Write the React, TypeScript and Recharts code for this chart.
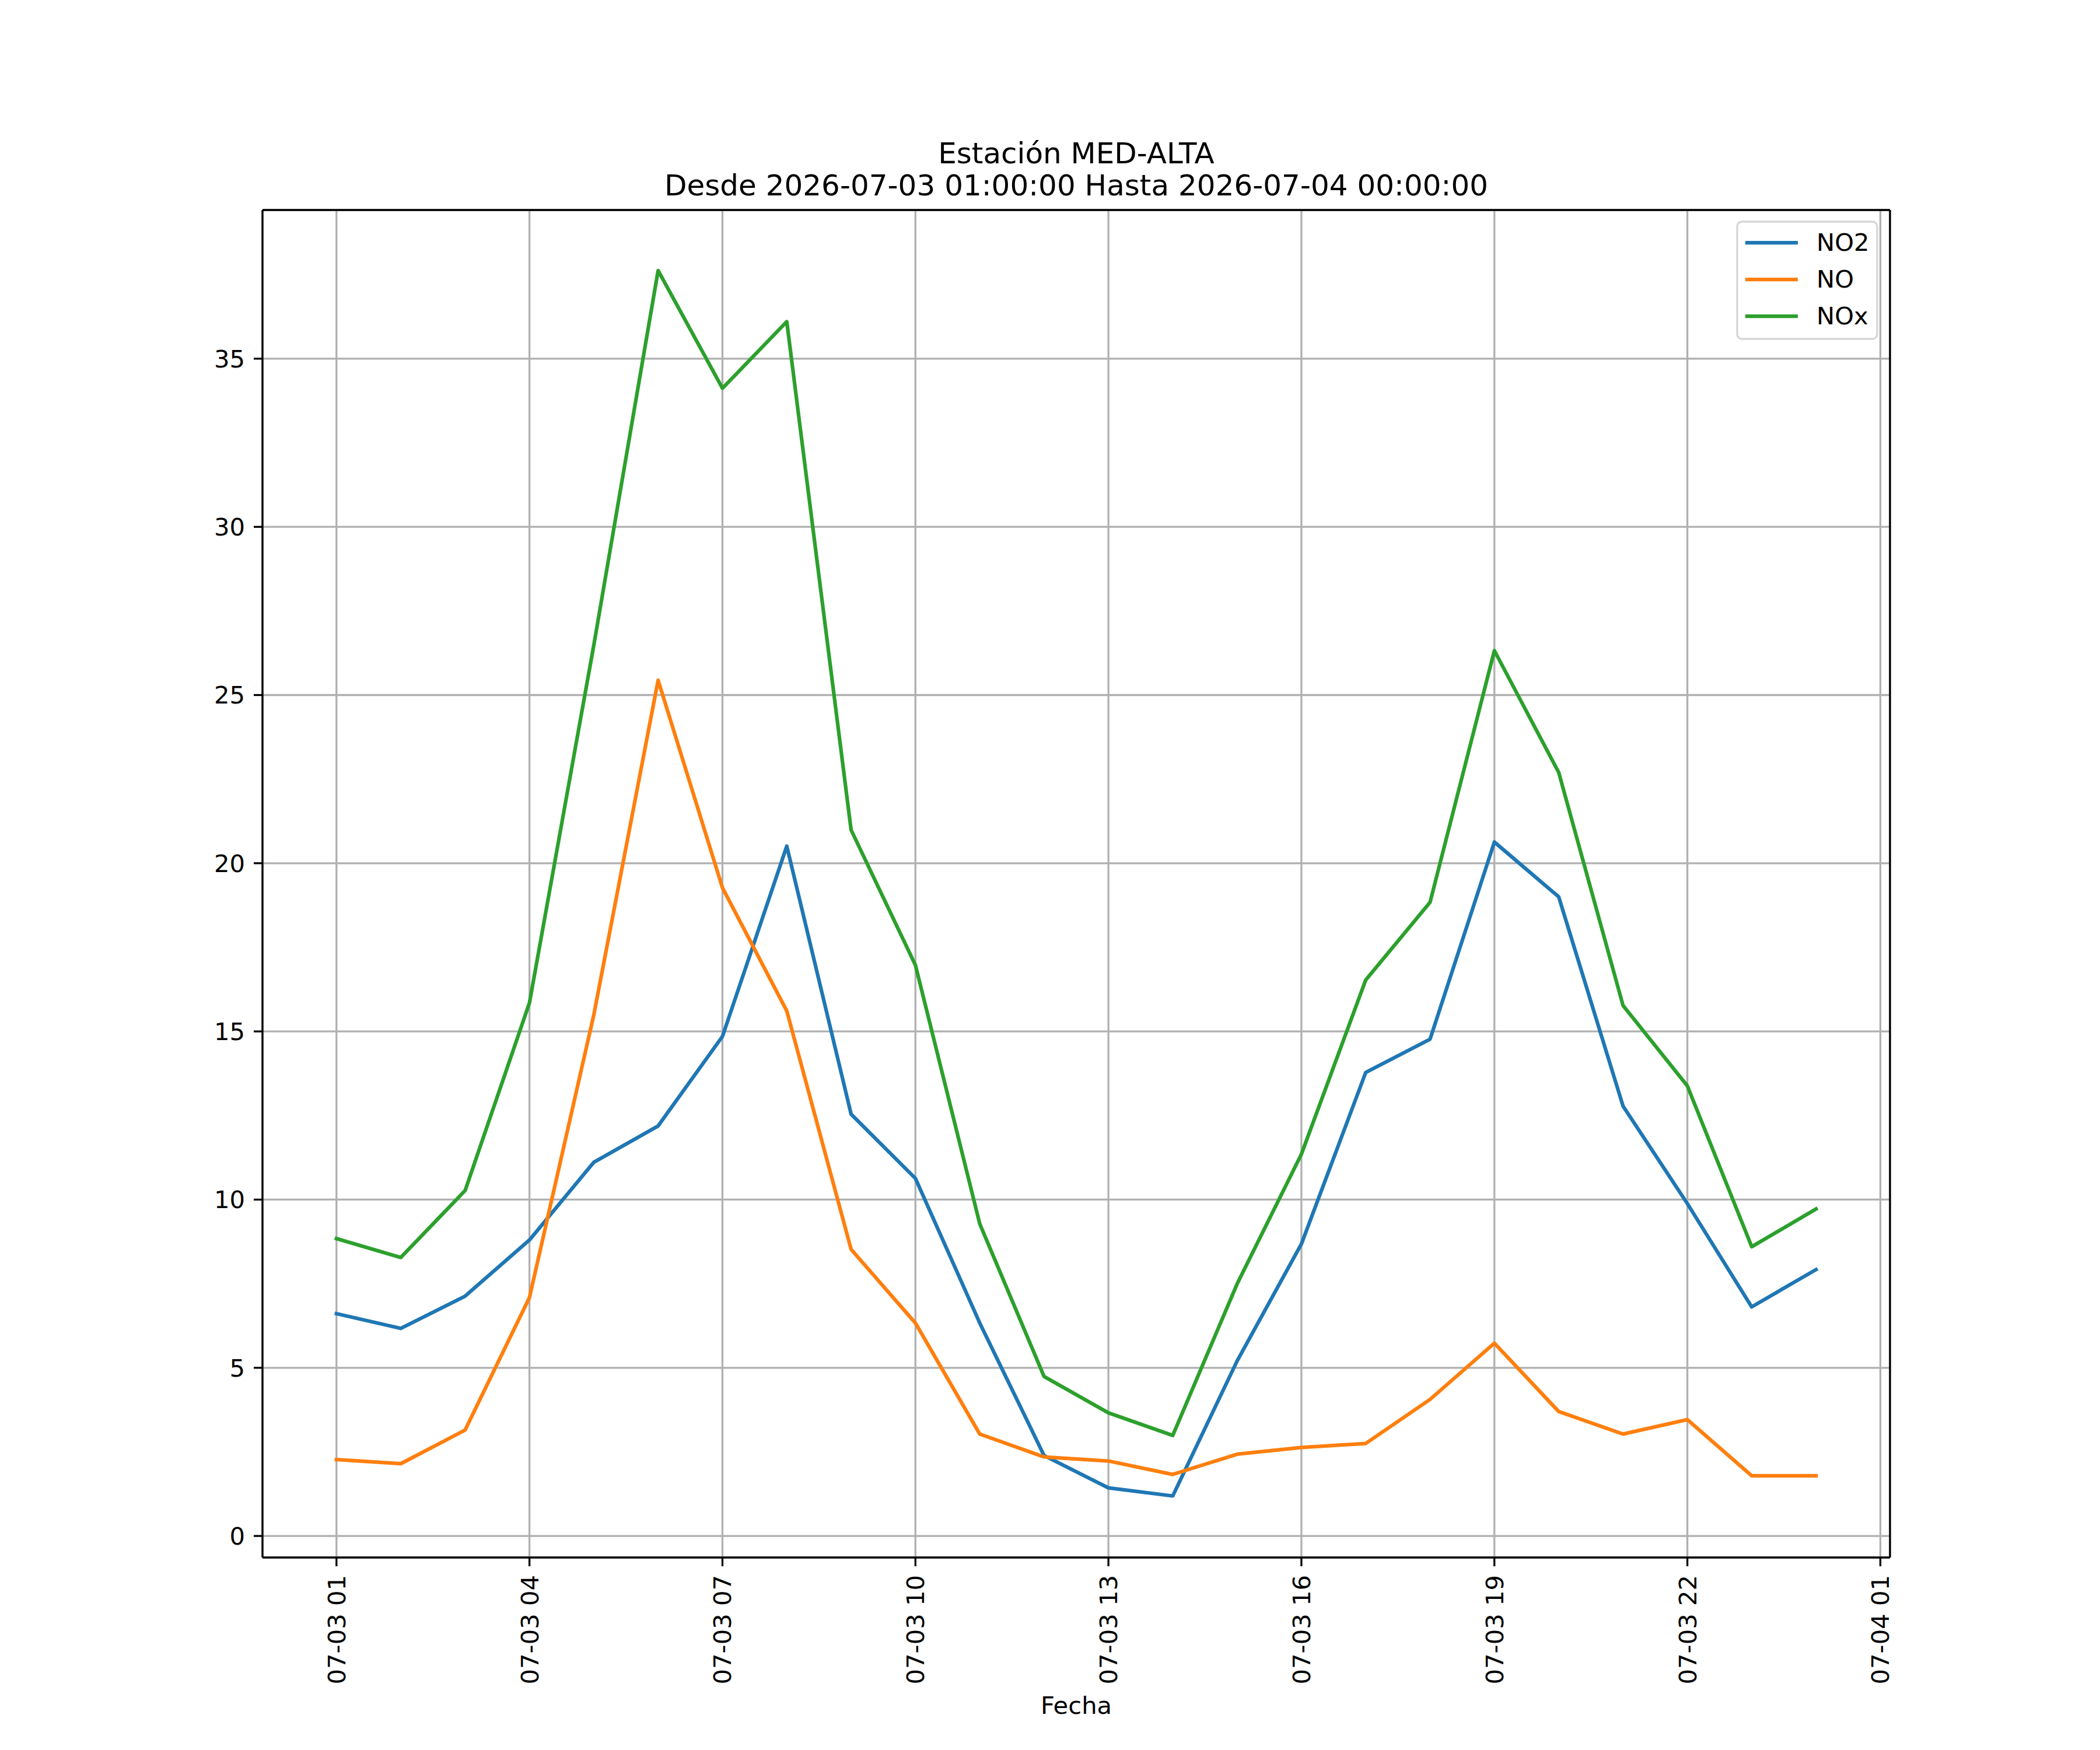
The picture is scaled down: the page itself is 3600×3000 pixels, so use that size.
import React from "react";
import { CartesianGrid, Line, LineChart, ReferenceLine, XAxis, YAxis } from "recharts";

// Hours after 2026-07-03 01:00 (0 = 01:00, 23 = 00:00 next day)
const HOURS = [0, 1, 2, 3, 4, 5, 6, 7, 8, 9, 10, 11, 12, 13, 14, 15, 16, 17, 18, 19, 20, 21, 22, 23];

const NO2 = [
  6.61, 6.17, 7.13, 8.8, 11.11, 12.19, 14.85, 20.51, 12.54, 10.63, 6.33, 2.39,
  1.43, 1.19, 5.2, 8.68, 13.78, 14.77, 20.63, 19.0, 12.78, 9.88, 6.81, 7.92,
];
const NO = [
  2.27, 2.15, 3.15, 7.09, 15.49, 25.44, 19.27, 15.61, 8.52, 6.33, 3.03, 2.35,
  2.23, 1.83, 2.43, 2.63, 2.75, 4.06, 5.73, 3.7, 3.03, 3.46, 1.79, 1.79,
];
const NOX = [
  8.84, 8.28, 10.27, 15.85, 26.48, 37.62, 34.12, 36.1, 20.99, 16.97, 9.28, 4.74,
  3.66, 2.99, 7.49, 11.35, 16.53, 18.84, 26.32, 22.7, 15.77, 13.38, 8.6, 9.72,
];

const X_TICKS = [0, 3, 6, 9, 12, 15, 18, 21, 24];
const X_TICK_LABELS = [
  "07-03 01", "07-03 04", "07-03 07", "07-03 10", "07-03 13",
  "07-03 16", "07-03 19", "07-03 22", "07-04 01",
];
const Y_TICKS = [0, 5, 10, 15, 20, 25, 30, 35];

const SERIES = [
  { key: "NO2", name: "NO2", color: "#1f77b4" },
  { key: "NO", name: "NO", color: "#ff7f0e" },
  { key: "NOx", name: "NOx", color: "#2ca02c" },
];

const TITLE = ["Estación MED-ALTA", "Desde 2026-07-03 01:00:00 Hasta 2026-07-04 00:00:00"];

const X_DOMAIN: [number, number] = [-1.15, 24.15];
const Y_DOMAIN: [number, number] = [-0.64, 39.42];

const FONT = "DejaVu Sans";
const TICK_FS = 41.7;
const LW = 3.3;

const rows = HOURS.map((h, i) => ({ h, NO2: NO2[i], NO: NO[i], NOx: NOX[i] }));

function XTick({ x, y, payload }: { x?: number; y?: number; payload?: { value: number } }) {
  const idx = X_TICKS.indexOf(payload?.value ?? -1);
  const label = X_TICK_LABELS[idx] ?? "";
  return (
    <text
      x={x}
      y={y}
      transform={`rotate(-90, ${x}, ${y})`}
      textAnchor="end"
      dy="0.36em"
      fontSize={TICK_FS}
      fontFamily={FONT}
      fill="#000"
    >
      {label}
    </text>
  );
}

export default function App() {
  return (
    <div style={{ position: "absolute", left: 0, top: 0, width: 3600, height: 3000, background: "#fff" }}>
      <LineChart
        width={3600}
        height={3000}
        data={rows}
        margin={{ top: 360, right: 360, bottom: 0, left: 0 }}
      >
        <CartesianGrid stroke="#b0b0b0" strokeWidth={LW} />
        <XAxis
          dataKey="h"
          type="number"
          domain={X_DOMAIN}
          ticks={X_TICKS}
          allowDataOverflow
          height={330}
          tickSize={15}
          tickMargin={15}
          tickLine={{ stroke: "#000", strokeWidth: LW }}
          axisLine={{ stroke: "#000", strokeWidth: LW }}
          tick={<XTick />}
          interval={0}
        />
        <YAxis
          type="number"
          domain={Y_DOMAIN}
          ticks={Y_TICKS}
          allowDataOverflow
          width={450}
          tickSize={15}
          tickMargin={15}
          tickLine={{ stroke: "#000", strokeWidth: LW }}
          axisLine={{ stroke: "#000", strokeWidth: LW }}
          tick={{ fontSize: TICK_FS, fontFamily: FONT, fill: "#000" }}
          interval={0}
        />
        {SERIES.map((s) => (
          <Line
            key={s.key}
            type="linear"
            dataKey={s.key}
            name={s.name}
            stroke={s.color}
            strokeWidth={6.25}
            strokeLinejoin="round"
            strokeLinecap="square"
            dot={false}
            activeDot={false}
            isAnimationActive={false}
          />
        ))}
        <ReferenceLine y={Y_DOMAIN[1]} stroke="#000" strokeWidth={LW} ifOverflow="visible" />
        <ReferenceLine x={X_DOMAIN[1]} stroke="#000" strokeWidth={LW} ifOverflow="visible" />
      </LineChart>

      {/* title, x label and legend */}
      <svg
        width={3600}
        height={3000}
        style={{ position: "absolute", left: 0, top: 0, pointerEvents: "none" }}
        fontFamily={FONT}
      >
        <text x={1845} y={280} textAnchor="middle" fontSize={50} fill="#000">
          {TITLE[0]}
        </text>
        <text x={1845} y={335} textAnchor="middle" fontSize={50} fill="#000">
          {TITLE[1]}
        </text>
        <text x={1845} y={2938} textAnchor="middle" fontSize={TICK_FS} fill="#000">
          Fecha
        </text>
        <rect
          x={2978}
          y={380}
          width={240}
          height={201}
          rx={8}
          fill="#fff"
          fillOpacity={0.8}
          stroke="#d6d6d6"
          strokeWidth={LW}
        />
        {SERIES.map((s, i) => (
          <g key={s.key}>
            <line x1={2992} x2={3082} y1={416 + i * 63} y2={416 + i * 63} stroke={s.color} strokeWidth={6.25} />
            <text x={3114} y={430 + i * 63} fontSize={TICK_FS} fill="#000">
              {s.name}
            </text>
          </g>
        ))}
      </svg>
    </div>
  );
}
